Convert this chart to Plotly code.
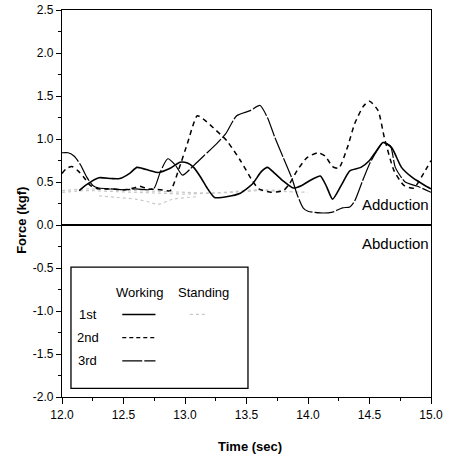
import plotly.graph_objects as go

# ---- data ----
t_first = [12.14, 12.2, 12.3, 12.4, 12.47, 12.55, 12.61, 12.72, 12.78, 12.88, 12.96, 13.02, 13.07,
           13.13, 13.18, 13.24, 13.3, 13.38, 13.45, 13.55, 13.62, 13.67, 13.73, 13.8, 13.88, 13.95,
           14.02, 14.1, 14.15, 14.2, 14.27, 14.34, 14.43, 14.5, 14.55, 14.61, 14.68, 14.76, 14.85,
           14.95, 15.0]
f_first = [0.40, 0.47, 0.55, 0.54, 0.54, 0.60, 0.67, 0.63, 0.61, 0.66, 0.73, 0.72, 0.67,
           0.55, 0.43, 0.32, 0.32, 0.34, 0.37, 0.48, 0.62, 0.67, 0.60, 0.51, 0.43, 0.46,
           0.52, 0.57, 0.45, 0.30, 0.46, 0.63, 0.67, 0.75, 0.85, 0.96, 0.90, 0.67, 0.55,
           0.46, 0.42]

t_second = [12.0, 12.04, 12.08, 12.13, 12.18, 12.23, 12.3, 12.4, 12.5, 12.58, 12.63, 12.7, 12.8,
            12.88, 12.95, 13.02, 13.1, 13.16, 13.23, 13.34, 13.45, 13.55, 13.6, 13.7, 13.8, 13.85,
            13.91, 13.99, 14.08, 14.14, 14.2, 14.25, 14.32, 14.38, 14.45, 14.5, 14.57, 14.62, 14.7,
            14.78, 14.86, 14.94, 15.0]
f_second = [0.60, 0.66, 0.68, 0.63, 0.55, 0.46, 0.42, 0.42, 0.41, 0.43, 0.45, 0.42, 0.41,
            0.40, 0.65, 0.95, 1.27, 1.22, 1.13, 0.98, 0.75, 0.51, 0.42, 0.38, 0.40, 0.48,
            0.63, 0.78, 0.84, 0.80, 0.68, 0.66, 0.90, 1.18, 1.38, 1.44, 1.33, 1.02, 0.63,
            0.46, 0.43, 0.60, 0.75]

t_third = [12.0, 12.05, 12.1, 12.15, 12.2, 12.25, 12.3, 12.4, 12.5, 12.6, 12.7, 12.75, 12.8, 12.86,
           12.92, 12.98, 13.07, 13.15, 13.26, 13.33, 13.42, 13.53, 13.61, 13.67, 13.73, 13.8, 13.87,
           13.91, 13.96, 14.0, 14.1, 14.2, 14.28, 14.34, 14.38, 14.44, 14.5, 14.56, 14.61, 14.67,
           14.71, 14.79, 14.89, 15.0]
f_third = [0.84, 0.84, 0.80, 0.70, 0.56, 0.46, 0.43, 0.42, 0.41, 0.42, 0.41, 0.43, 0.62, 0.77,
           0.70, 0.58, 0.69, 0.80, 0.95, 1.06, 1.27, 1.33, 1.39, 1.25, 1.02, 0.78, 0.54,
           0.36, 0.20, 0.16, 0.14, 0.15, 0.20, 0.21, 0.28, 0.50, 0.71, 0.86, 0.96, 0.92,
           0.67, 0.50, 0.45, 0.38]

t_stand1 = [12.0, 12.2, 12.4, 12.6, 12.8, 13.0, 13.2, 13.4, 13.6, 13.8, 14.0]
f_stand1 = [0.38, 0.40, 0.39, 0.38, 0.37, 0.36, 0.37, 0.38, 0.40, 0.39, 0.38]
t_stand2 = [12.0, 12.2, 12.4, 12.6, 12.8, 13.0, 13.2, 13.4, 13.6, 13.8]
f_stand2 = [0.40, 0.42, 0.41, 0.40, 0.39, 0.38, 0.37, 0.39, 0.41, 0.40]
t_stand3 = [12.3, 12.45, 12.6, 12.7, 12.78, 12.9, 13.1]
f_stand3 = [0.34, 0.32, 0.30, 0.27, 0.24, 0.30, 0.33]

x_ticks = [12.0, 12.5, 13.0, 13.5, 14.0, 14.5, 15.0]
x_ticklabels = ["12.0", "12.5", "13.0", "13.5", "14.0", "14.5", "15.0"]
y_ticks = [-2.0, -1.5, -1.0, -0.5, 0.0, 0.5, 1.0, 1.5, 2.0, 2.5]
y_ticklabels = ["-2.0", "-1.5", "-1.0", "-0.5", "0.0", "0.5", "1.0", "1.5", "2.0", "2.5"]

FONT = "Liberation Sans Narrow, Arial Narrow, Liberation Sans, Arial, sans-serif"

fig = go.Figure()
for tx, fx in [(t_stand1, f_stand1), (t_stand2, f_stand2), (t_stand3, f_stand3)]:
    fig.add_trace(go.Scatter(x=tx, y=fx, mode="lines", showlegend=False,
                             line=dict(color="#c8c8c8", width=1.2, dash="dot", shape="spline", smoothing=0.6)))
fig.add_trace(go.Scatter(x=t_first, y=f_first, mode="lines", showlegend=False,
                         line=dict(color="black", width=1.6, shape="spline", smoothing=0.6)))
fig.add_trace(go.Scatter(x=t_second, y=f_second, mode="lines", showlegend=False,
                         line=dict(color="black", width=1.5, dash="5px,4px", shape="spline", smoothing=0.6)))
fig.add_trace(go.Scatter(x=t_third, y=f_third, mode="lines", showlegend=False,
                         line=dict(color="black", width=1.2, dash="20px,2px", shape="spline", smoothing=0.6)))

# legend box drawn by hand (two-column legend)
fig.add_shape(type="rect", x0=12.073, x1=13.512, y0=-1.90, y1=-0.49, xref="x", yref="y",
              line=dict(color="black", width=1.3), fillcolor="white")
fig.add_annotation(x=12.634, y=-0.79, text="Working", showarrow=False, font=dict(size=13, family=FONT))
fig.add_annotation(x=13.15, y=-0.79, text="Standing", showarrow=False, font=dict(size=13, family=FONT))
for yy, lab, dash, w in [(-1.04, "1st", "solid", 1.4), (-1.31, "2nd", "4px,3px", 1.3), (-1.58, "3rd", "20px,2px", 1.3)]:
    fig.add_annotation(x=12.21, y=yy, text=lab, showarrow=False, font=dict(size=13, family=FONT))
    fig.add_shape(type="line", x0=12.49, x1=12.76, y0=yy, y1=yy, xref="x", yref="y",
                  line=dict(color="black", width=w, dash=dash))
fig.add_shape(type="line", x0=13.04, x1=13.16, y0=-1.04, y1=-1.04, xref="x", yref="y",
              line=dict(color="#c8c8c8", width=1.2, dash="dot"))

fig.add_annotation(x=15.0, y=0.24, xanchor="right", text="Adduction", showarrow=False,
                   font=dict(size=15, family=FONT))
fig.add_annotation(x=15.0, y=-0.22, xanchor="right", text="Abduction", showarrow=False,
                   font=dict(size=15, family=FONT))

# axis titles placed as annotations
fig.add_annotation(x=-0.108, xref="paper", xanchor="center", y=0.05, yref="y", yanchor="middle",
                   text="<b>Force (kgf)</b>", textangle=-90,
                   showarrow=False, font=dict(size=13, family=FONT))
fig.add_annotation(x=13.53, xref="x", xanchor="center", y=-0.129, yref="paper", yanchor="middle",
                   text="<b>Time (sec)</b>", showarrow=False, font=dict(size=13, family=FONT))

fig.update_xaxes(range=[12.0, 15.0], tickvals=x_ticks, ticktext=x_ticklabels, ticks="outside",
                 ticklen=6, tickwidth=1.3, tickcolor="black", automargin=False,
                 minor=dict(ticks="outside", ticklen=3, dtick=0.25, tickcolor="black"),
                 showline=True, linecolor="black", linewidth=1.3, mirror=True, showgrid=False,
                 zeroline=False, tickfont=dict(size=12, family=FONT, color="black"))
fig.update_yaxes(range=[-2.0, 2.5], tickvals=y_ticks, ticktext=y_ticklabels, ticks="outside",
                 ticklen=5, tickwidth=1.3, tickcolor="black", automargin=False,
                 minor=dict(ticks="outside", ticklen=3, dtick=0.25, tickcolor="black"),
                 showline=True, linecolor="black", linewidth=1.3, mirror=True, showgrid=False,
                 zeroline=True, zerolinecolor="black", zerolinewidth=1.5,
                 tickfont=dict(size=12, family=FONT, color="black"))

fig.update_layout(width=449, height=459, margin=dict(l=62, r=18, t=10, b=62, autoexpand=False),
                  font=dict(family=FONT, color="black"),
                  plot_bgcolor="white", paper_bgcolor="white", showlegend=False)

fig.write_html("out.html", config={"displayModeBar": False},
               post_script="document.body.style.margin='0';document.body.style.overflow='hidden';")
